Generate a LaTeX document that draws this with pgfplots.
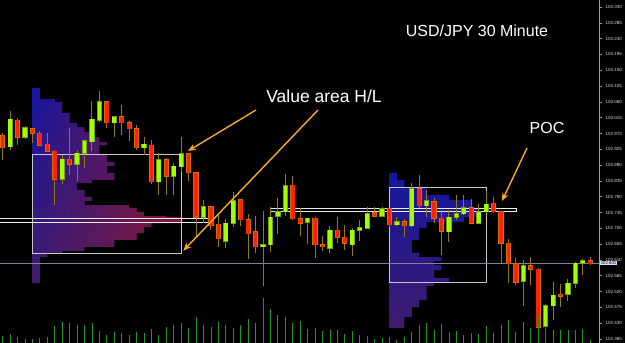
\documentclass[border=0pt]{standalone}
\usepackage{fontspec}
\setmainfont{Liberation Sans}
\usepackage{pgfplots}
\pgfplotsset{compat=1.18}
\usepackage{pgfplotstable}
\usetikzlibrary{arrows.meta,fadings}

\definecolor{redbody}{RGB}{255,34,0}
\definecolor{rededge}{RGB}{215,110,0}
\definecolor{grnbody}{RGB}{160,255,0}
\definecolor{grnedge}{RGB}{125,160,0}
\definecolor{wick}{RGB}{150,120,20}
\definecolor{volgreen}{RGB}{36,150,36}
\definecolor{profblue}{RGB}{22,22,160}
\definecolor{profpurple}{RGB}{62,28,110}
\definecolor{profred}{RGB}{135,22,55}
\definecolor{annot}{RGB}{247,168,40}
\definecolor{vabox}{RGB}{200,200,200}
\definecolor{priceline}{RGB}{120,135,150}

\pgfplotstableread{
x o h l c
0 102.963 102.971 102.895 102.929
2 103.008 103.014 102.937 102.960
4 102.983 102.986 102.943 102.971
5 102.971 102.977 102.934 102.937
6 102.940 102.971 102.917 102.920
7 102.920 102.923 102.766 102.840
9 102.897 102.986 102.852 102.883
14 103.060 103.062 102.986 103.000
16 103.017 103.051 102.966 103.000
17 103.000 103.006 102.949 102.983
18 102.983 102.994 102.923 102.929
20 102.937 102.951 102.826 102.832
22 102.895 102.900 102.795 102.849
25 102.912 102.914 102.835 102.858
26 102.858 102.858 102.678 102.732
28 102.761 102.764 102.695 102.707
29 102.712 102.738 102.647 102.670
32 102.781 102.784 102.707 102.724
33 102.724 102.741 102.613 102.684
34 102.690 102.735 102.630 102.647
39 102.823 102.849 102.724 102.727
40 102.727 102.758 102.678 102.715
42 102.729 102.732 102.616 102.653
43 102.653 102.678 102.636 102.647
45 102.695 102.732 102.658 102.675
46 102.675 102.710 102.638 102.658
50 102.744 102.761 102.732 102.735
52 102.755 102.758 102.704 102.710
54 102.718 102.727 102.675 102.707
56 102.812 102.852 102.758 102.764
58 102.775 102.786 102.715 102.729
59 102.729 102.752 102.624 102.692
63 102.758 102.784 102.712 102.715
66 102.772 102.789 102.744 102.747
67 102.747 102.749 102.601 102.658
68 102.658 102.670 102.544 102.599
69 102.599 102.616 102.539 102.547
71 102.593 102.618 102.539 102.584
72 102.584 102.587 102.402 102.419
75 102.513 102.542 102.476 102.507
79 102.607 102.618 102.596 102.599
}\redc

\pgfplotstableread{
x o h l c
1 102.932 103.034 102.923 103.011
3 102.960 102.991 102.954 102.986
8 102.840 102.909 102.826 102.897
10 102.883 102.923 102.835 102.914
11 102.914 102.951 102.872 102.949
12 102.946 103.062 102.920 103.011
13 103.008 103.091 103.003 103.060
15 103.000 103.020 102.960 103.017
19 102.929 102.960 102.909 102.940
21 102.832 102.914 102.795 102.895
23 102.849 102.886 102.795 102.877
24 102.875 102.960 102.860 102.912
27 102.732 102.781 102.715 102.761
30 102.664 102.727 102.644 102.715
31 102.715 102.803 102.704 102.778
35 102.647 102.749 102.536 102.653
36 102.653 102.761 102.633 102.732
37 102.735 102.786 102.684 102.747
38 102.747 102.855 102.735 102.821
41 102.718 102.729 102.655 102.729
44 102.644 102.707 102.630 102.695
47 102.653 102.701 102.621 102.695
48 102.695 102.724 102.664 102.701
49 102.701 102.761 102.698 102.741
51 102.735 102.761 102.732 102.755
53 102.710 102.732 102.707 102.718
55 102.707 102.829 102.704 102.812
57 102.764 102.809 102.732 102.778
60 102.690 102.752 102.661 102.732
61 102.732 102.795 102.724 102.741
62 102.741 102.795 102.738 102.758
64 102.715 102.769 102.712 102.747
65 102.747 102.806 102.744 102.769
70 102.550 102.610 102.479 102.593
73 102.422 102.485 102.402 102.479
74 102.479 102.547 102.439 102.510
76 102.513 102.556 102.493 102.544
77 102.544 102.604 102.530 102.601
78 102.601 102.613 102.567 102.607
}\grnc

\pgfplotstableread{
x v
0 7
1 8.7
2 5.7
3 4
4 4
5 5
6 6
7 17
8 21
9 20
10 18
11 18
12 20
13 12
14 8.3
15 11
16 10.3
17 8.3
18 11
19 10.3
20 14
21 8
22 16
23 18
24 19.7
25 15.3
26 25.7
27 18
28 16
29 21
30 18
31 15.3
32 18
33 24
34 19.7
35 45.3
36 33.7
37 28
38 25.7
39 19.7
40 22.3
41 14.3
42 15.3
43 12
44 12.7
45 13
46 9.3
47 12
48 8
49 7
50 4
51 5
52 6
53 3
54 6.3
55 11
56 18
57 19.7
58 13
59 19
60 11.3
61 12.3
62 8
63 10
64 9
65 17
66 10.3
67 18
68 23
69 10.7
70 21
71 15
72 26.3
73 16.7
74 13
75 13
76 13
77 13
78 14
79 3
}\vol

\begin{document}
\begin{tikzpicture}
\fill[black] (0,0) rectangle (625pt,343pt);
\begin{axis}[
  at={(0,0)}, anchor=south west,
  scale only axis, width=599pt, height=343pt,
  xmin=-0.363, xmax=80.17, ymin=102.3736, ymax=103.350,
  axis x line=bottom, axis y line=right,
  axis line style={-, draw=gray!75, line width=0.8pt},
  xtick=\empty,
  ytick={102.385,102.430,102.475,102.520,102.565,102.610,102.655,102.700,102.745,102.790,102.835,102.880,102.925,102.970,103.015,103.060,103.105,103.150,103.195,103.240,103.285,103.330},
  scaled y ticks=false,
  tick align=outside, major tick length=3pt,
  ytick style={draw=gray!75, line width=0.6pt},
  yticklabel style={font=\fontsize{4.5}{5}\selectfont, text=gray!25!white,
    /pgf/number format/.cd, fixed, fixed zerofill, precision=3, assume math mode=true},
]
% left volume profile
\addplot [draw=none, top color=profblue, bottom color=profpurple, forget plot] coordinates {
(4,103.100) (5,103.100) (5,103.068) (7,103.068) (7,103.060) (8,103.060) (8,103.028) (9,103.028) (9,103.000) (10,103.000) (10,102.988) (11,102.988) (11,102.974) (12,102.974) (12,102.960) (13,102.960) (13,102.946) (14,102.946) (14,102.937) (13,102.937) (13,102.909) (14,102.909) (14,102.889) (15,102.889) (15,102.877) (14,102.877) (14,102.858) (15,102.858) (15,102.838) (12,102.838) (12,102.829) (10,102.829) (10,102.809) (11,102.809) (11,102.789) (12,102.789) (12,102.778) (11,102.778) (11,102.766) (17,102.766) (17,102.758) (18,102.758) (18,102.747) (19,102.747) (19,102.735) (22,102.735) (22,102.732) (24,102.732) (24,102.715) (20,102.715) (20,102.704) (19,102.704) (19,102.687) (18,102.687) (18,102.667) (15,102.667) (15,102.647) (11,102.647) (11,102.636) (8,102.636) (8,102.630) (6,102.630) (6,102.618) (5,102.618) (5,102.544) (4,102.544)} -- cycle;
\addplot [draw=none, fill=profred, path fading=west, forget plot] coordinates {
(4,103.100) (5,103.100) (5,103.068) (7,103.068) (7,103.060) (8,103.060) (8,103.028) (9,103.028) (9,103.000) (10,103.000) (10,102.988) (11,102.988) (11,102.974) (12,102.974) (12,102.960) (13,102.960) (13,102.946) (14,102.946) (14,102.937) (13,102.937) (13,102.909) (14,102.909) (14,102.889) (15,102.889) (15,102.877) (14,102.877) (14,102.858) (15,102.858) (15,102.838) (12,102.838) (12,102.829) (10,102.829) (10,102.809) (11,102.809) (11,102.789) (12,102.789) (12,102.778) (11,102.778) (11,102.766) (17,102.766) (17,102.758) (18,102.758) (18,102.747) (19,102.747) (19,102.735) (22,102.735) (22,102.732) (24,102.732) (24,102.715) (20,102.715) (20,102.704) (19,102.704) (19,102.687) (18,102.687) (18,102.667) (15,102.667) (15,102.647) (11,102.647) (11,102.636) (8,102.636) (8,102.630) (6,102.630) (6,102.618) (5,102.618) (5,102.544) (4,102.544)} -- cycle;
% right volume profile
\addplot [draw=none, top color=profblue, bottom color=profpurple, forget plot] coordinates {
(52,102.858) (53,102.858) (53,102.838) (54,102.838) (54,102.818) (57,102.818) (57,102.795) (60,102.795) (60,102.781) (63,102.781) (63,102.758) (64,102.758) (64,102.732) (62,102.732) (62,102.718) (57,102.718) (57,102.701) (56,102.701) (56,102.667) (55,102.667) (55,102.630) (56,102.630) (56,102.618) (59,102.618) (59,102.607) (58,102.607) (58,102.596) (59,102.596) (59,102.581) (58,102.581) (58,102.559) (60,102.559) (60,102.547) (58,102.547) (58,102.536) (57,102.536) (57,102.496) (56,102.496) (56,102.476) (55,102.476) (55,102.448) (54,102.448) (54,102.416) (52,102.416)} -- cycle;
% value area boxes and POC
\draw[vabox, line width=1pt] (axis cs:3.98,102.627) rectangle (axis cs:24.07,102.909);
\draw[vabox, line width=1pt] (axis cs:51.98,102.545) rectangle (axis cs:65.07,102.817);
\draw[white!85!gray, line width=0.8pt] (axis cs:-1,102.718) rectangle (axis cs:27.6,102.729);
\draw[white!85!gray, line width=0.8pt] (axis cs:35.94,102.747) rectangle (axis cs:69.0,102.757);
\draw[priceline, line width=0.8pt] (axis cs:-1,102.601) -- (axis cs:81,102.601);
% wicks
\addplot [draw=none, mark=none, forget plot, error bars/.cd, y dir=plus, y explicit, error mark=none,
  error bar style={draw=wick, line width=1pt, solid}]
  table [x=x, y=l, y error expr=\thisrow{h}-\thisrow{l}] {\redc};
\addplot [draw=none, mark=none, forget plot, error bars/.cd, y dir=plus, y explicit, error mark=none,
  error bar style={draw=wick, line width=1pt, solid}]
  table [x=x, y=l, y error expr=\thisrow{h}-\thisrow{l}] {\grnc};
% bodies
\addplot [draw=none, mark=none, forget plot, error bars/.cd, y dir=plus, y explicit, error mark=none,
  error bar style={draw=rededge, line width=5.2pt, solid}]
  table [x=x, y expr=\thisrow{c}-0.0015, y error expr=\thisrow{o}-\thisrow{c}+0.003] {\redc};
\addplot [draw=none, mark=none, forget plot, error bars/.cd, y dir=plus, y explicit, error mark=none,
  error bar style={draw=redbody, line width=3.6pt, solid}]
  table [x=x, y=c, y error expr=\thisrow{o}-\thisrow{c}] {\redc};
\addplot [draw=none, mark=none, forget plot, error bars/.cd, y dir=plus, y explicit, error mark=none,
  error bar style={draw=grnedge, line width=5.2pt, solid}]
  table [x=x, y expr=\thisrow{o}-0.0015, y error expr=\thisrow{c}-\thisrow{o}+0.003] {\grnc};
\addplot [draw=none, mark=none, forget plot, error bars/.cd, y dir=plus, y explicit, error mark=none,
  error bar style={draw=grnbody, line width=3.6pt, solid}]
  table [x=x, y=o, y error expr=\thisrow{c}-\thisrow{o}] {\grnc};
\end{axis}
\begin{axis}[
  at={(0,0)}, anchor=south west,
  scale only axis, width=599pt, height=343pt,
  xmin=-0.363, xmax=80.17, ymin=0, ymax=343,
  axis lines=none,
]
\addplot [ycomb, draw=volgreen, line width=0.9pt, mark=none] table [x=x, y=v] {\vol};
\end{axis}
% price label
\node[anchor=west, fill=white!88!blue, text=black, inner sep=0.6pt,
  font=\fontsize{4.3}{5}\selectfont] at (600pt,80pt) {102.601};
% annotations
\node[text=white, font=\fontsize{16}{19}\selectfont] at (477pt,312pt) {USD/JPY 30 Minute};
\node[text=white, font=\fontsize{17.5}{20}\selectfont] at (324pt,247pt) {Value area H/L};
\node[text=white, font=\fontsize{16}{19}\selectfont] at (547pt,215pt) {POC};
\draw[annot, line width=1.4pt, -{Stealth[length=8pt,width=6.5pt]}] (256pt,233pt) -- (188pt,192pt);
\draw[annot, line width=1.4pt, -{Stealth[length=8pt,width=6.5pt]}] (318pt,233pt) -- (183.3pt,92.3pt);
\draw[annot, line width=1.4pt, -{Stealth[length=8pt,width=6.5pt]}] (527pt,195pt) -- (502pt,142pt);
\pgfresetboundingbox
\path (0,0) rectangle (625pt,343pt);
\end{tikzpicture}
\end{document}
